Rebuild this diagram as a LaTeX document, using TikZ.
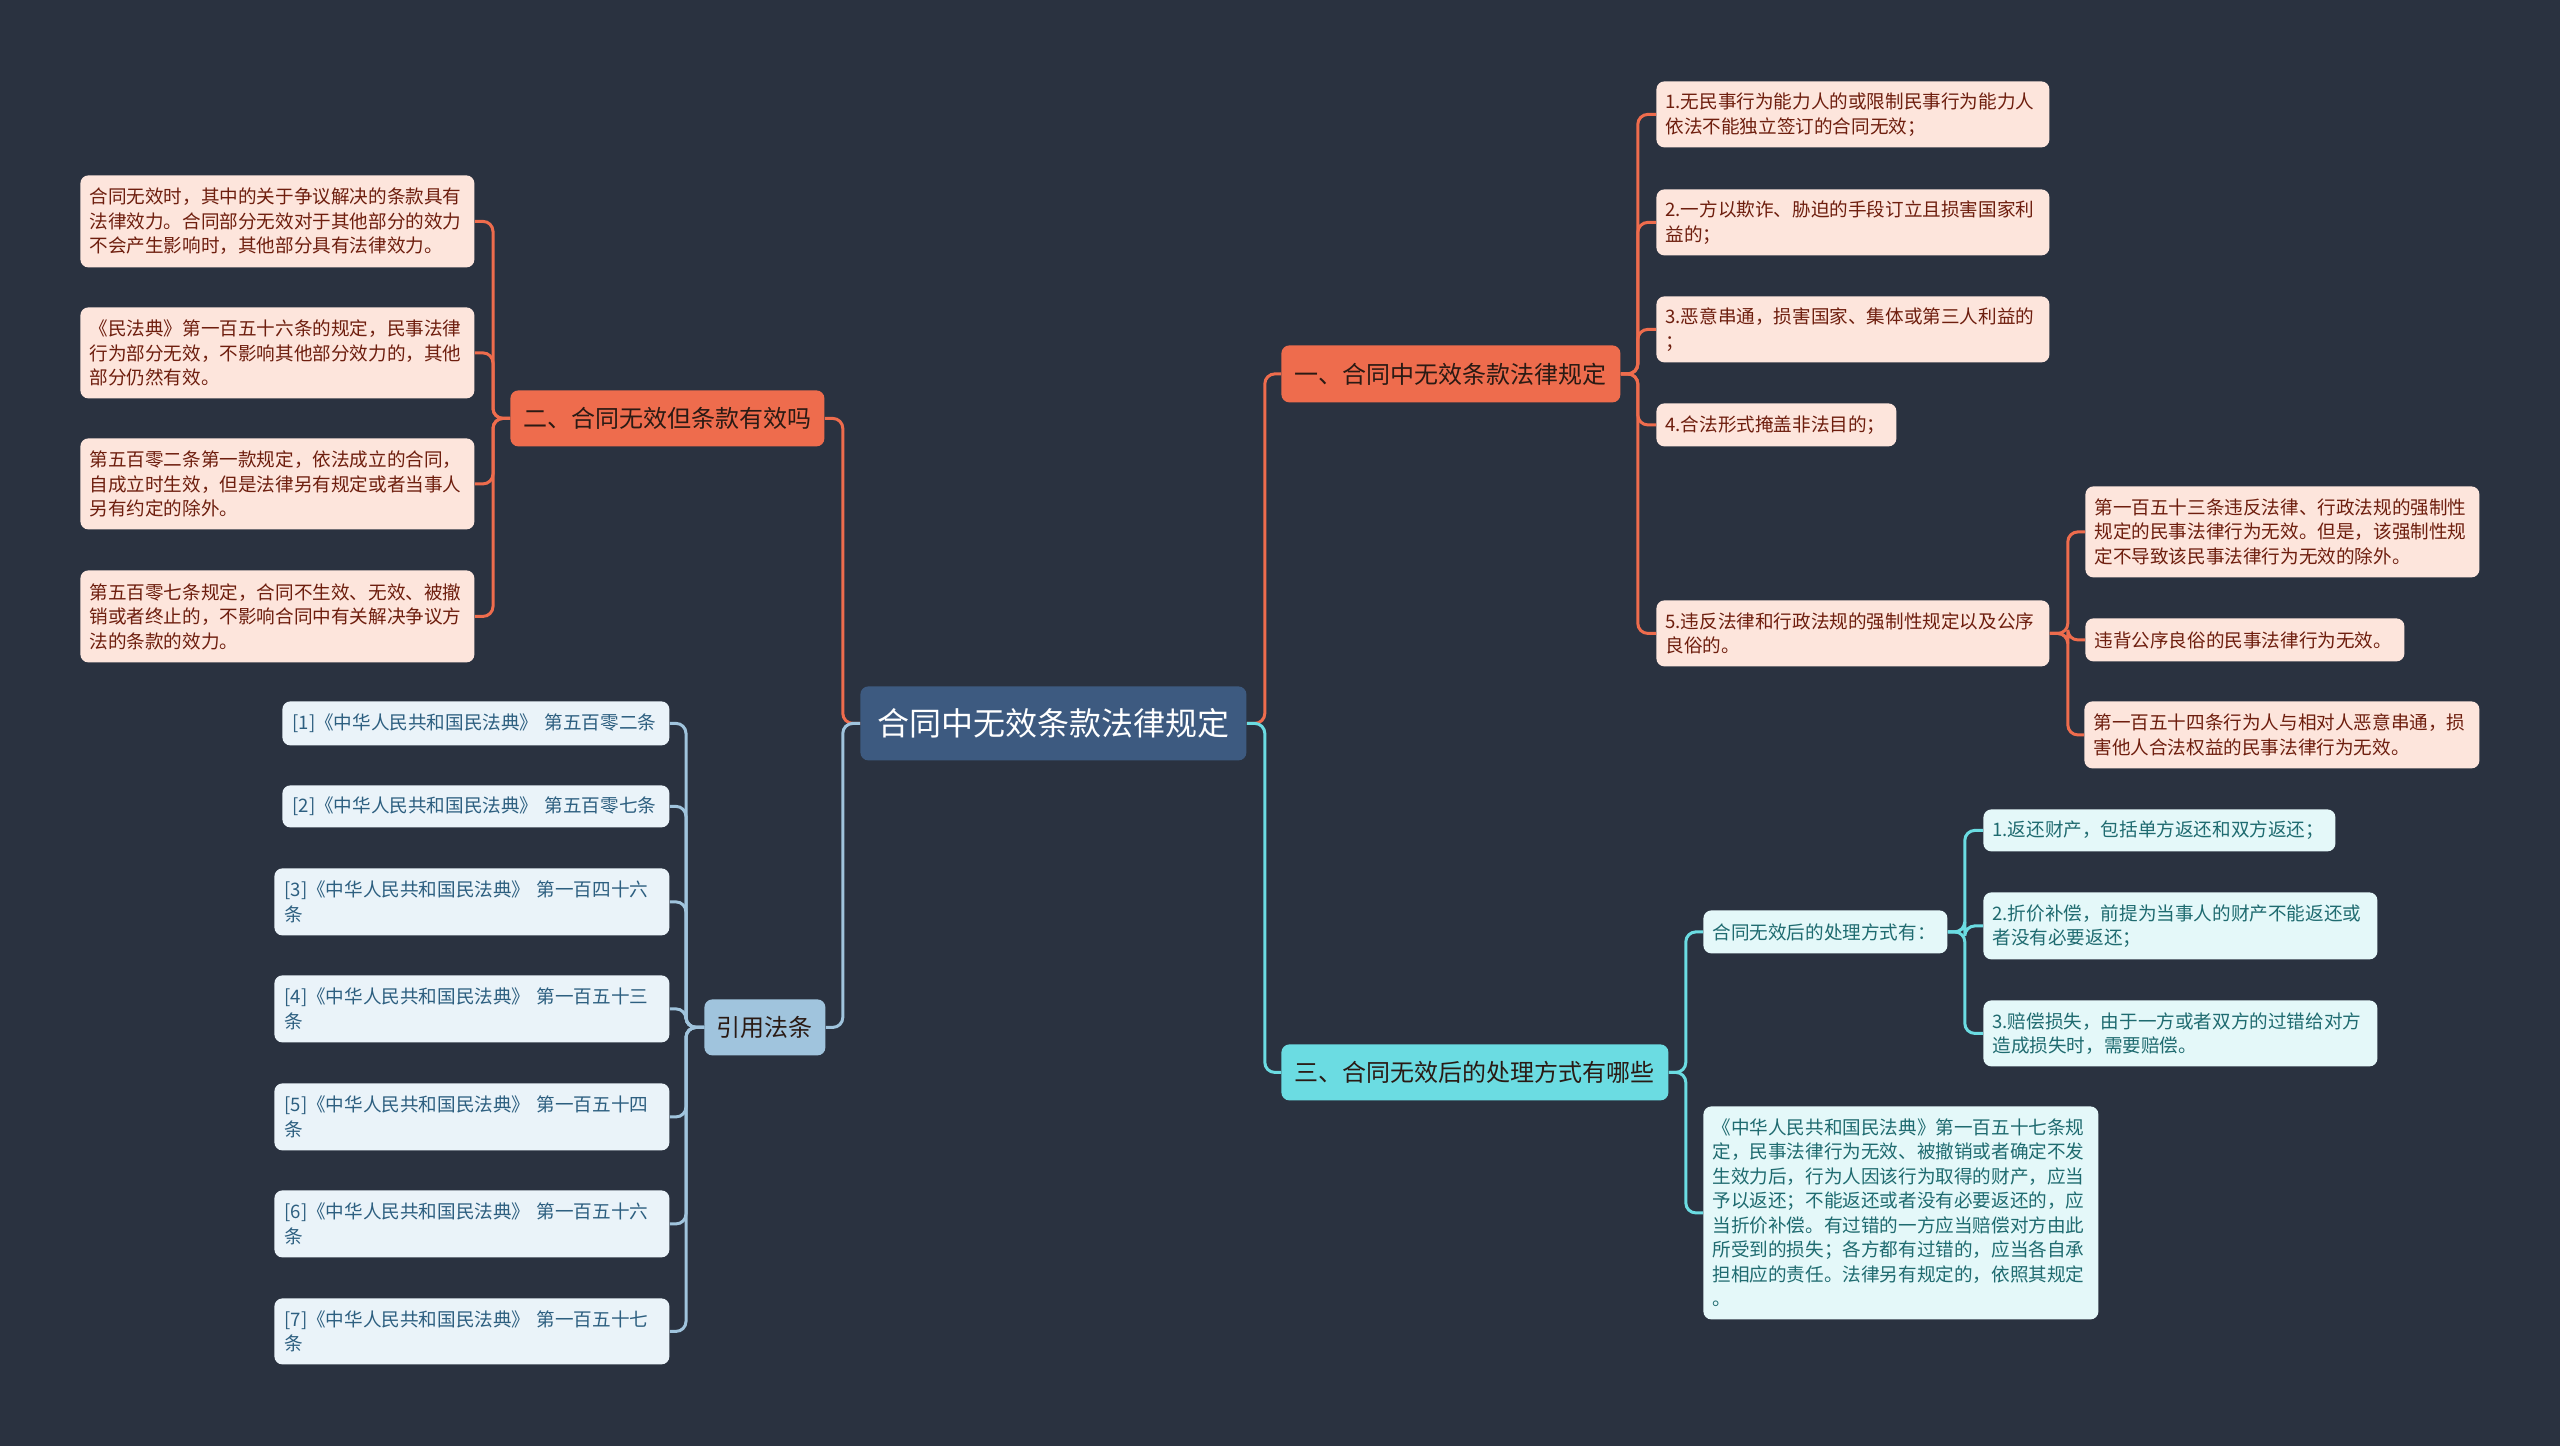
\documentclass[tikz,border=0pt]{standalone}
\usepackage{fontspec}
\newfontfamily\cjk{Noto Sans CJK SC}
\newcommand\leaffont{\cjk\fontsize{9.3}{12.25}\selectfont}
\newcommand\branchfont{\cjk\fontsize{12}{14}\selectfont}
\newcommand\rootfont{\cjk\fontsize{16}{19}\selectfont}
\definecolor{bgc}{HTML}{2A3240}
\definecolor{orgc}{HTML}{EE6C4D}
\definecolor{pinkc}{HTML}{FDE5DC}
\definecolor{pinkt}{HTML}{6E1E0E}
\definecolor{rootc}{HTML}{3D5A80}
\definecolor{cyanc}{HTML}{6BDCE2}
\definecolor{cyanl}{HTML}{E4F8F9}
\definecolor{cyant}{HTML}{1F6B70}
\definecolor{bluec}{HTML}{A0C4DD}
\definecolor{bluel}{HTML}{EAF3F9}
\definecolor{bluet}{HTML}{2D5F80}
\definecolor{darkt}{HTML}{2A1A14}
\tikzset{
  boxbase/.style={rectangle, rounded corners=4pt, anchor=north west, inner ysep=0pt},
  leafbox/.style={boxbase, inner xsep=4.5pt, align=left, font=\leaffont},
  pinkleaf/.style={leafbox, fill=pinkc, text=pinkt},
  cyanleaf/.style={leafbox, fill=cyanl, text=cyant},
  blueleaf/.style={leafbox, fill=bluel, text=bluet},
  branchbox/.style={boxbase, inner xsep=0pt, align=center, font=\branchfont},
  orgline/.style={draw=orgc, line width=1.5pt, rounded corners=5pt},
  cyanline/.style={draw=cyanc, line width=1.5pt, rounded corners=5pt},
  blueline/.style={draw=bluec, line width=1.5pt, rounded corners=5pt},
}
\begin{document}
\begin{tikzpicture}[x=0.5pt,y=-0.5pt]
\useasboundingbox (0,0) rectangle (2560,1446);
\fill[bgc] (0,0) rectangle (2560,1446);

% root
\node[boxbase, fill=rootc, text=white, font=\rootfont, minimum width=193pt, minimum height=37pt] (root) at (860,686) {合同中无效条款法律规定};

% branches
\node[branchbox, fill=orgc, text=darkt, minimum width=157pt, minimum height=28pt] (b2) at (510,390) {二、合同无效但条款有效吗};
\node[branchbox, fill=orgc, text=darkt, minimum width=169.5pt, minimum height=28.5pt] (b1) at (1281,345) {一、合同中无效条款法律规定};
\node[branchbox, fill=cyanc, text=darkt, minimum width=193.5pt, minimum height=28pt] (b3) at (1281,1044) {三、合同无效后的处理方式有哪些};
\node[branchbox, fill=bluec, text=darkt, minimum width=60.5pt, minimum height=28pt] (cite) at (704,999) {引用法条};

% left leaves
\node[pinkleaf, text width=188pt, minimum height=46pt] (L1) at (80,175) {合同无效时，其中的关于争议解决的条款具有\\法律效力。合同部分无效对于其他部分的效力\\不会产生影响时，其他部分具有法律效力。};
\node[pinkleaf, text width=188pt, minimum height=45.5pt] (L2) at (80,307) {《民法典》第一百五十六条的规定，民事法律\\行为部分无效，不影响其他部分效力的，其他\\部分仍然有效。};
\node[pinkleaf, text width=188pt, minimum height=45.5pt] (L3) at (80,438) {第五百零二条第一款规定，依法成立的合同，\\自成立时生效，但是法律另有规定或者当事人\\另有约定的除外。};
\node[pinkleaf, text width=188pt, minimum height=46pt] (L4) at (80,570) {第五百零七条规定，合同不生效、无效、被撤\\销或者终止的，不影响合同中有关解决争议方\\法的条款的效力。};

% citations
\node[blueleaf, inner xsep=5pt, text width=183.5pt, minimum height=22pt] (C1) at (282,701) {[1]《中华人民共和国民法典》~第五百零二条};
\node[blueleaf, inner xsep=5pt, text width=183.5pt, minimum height=21pt] (C2) at (282,785) {[2]《中华人民共和国民法典》~第五百零七条};
\node[blueleaf, inner xsep=5pt, text width=187.5pt, minimum height=33.5pt] (C3) at (274,868) {[3]《中华人民共和国民法典》 第一百四十六\\条};
\node[blueleaf, inner xsep=5pt, text width=187.5pt, minimum height=33.5pt] (C4) at (274,975) {[4]《中华人民共和国民法典》 第一百五十三\\条};
\node[blueleaf, inner xsep=5pt, text width=187.5pt, minimum height=33.5pt] (C5) at (274,1083) {[5]《中华人民共和国民法典》 第一百五十四\\条};
\node[blueleaf, inner xsep=5pt, text width=187.5pt, minimum height=33.5pt] (C6) at (274,1190) {[6]《中华人民共和国民法典》 第一百五十六\\条};
\node[blueleaf, inner xsep=5pt, text width=187.5pt, minimum height=33pt] (C7) at (274,1298) {[7]《中华人民共和国民法典》 第一百五十七\\条};

% right upper leaves
\node[pinkleaf, text width=187.5pt, minimum height=33pt] (R1) at (1656,81) {1.无民事行为能力人的或限制民事行为能力人\\依法不能独立签订的合同无效；};
\node[pinkleaf, text width=187.5pt, minimum height=33pt] (R2) at (1656,189) {2.一方以欺诈、胁迫的手段订立且损害国家利\\益的；};
\node[pinkleaf, text width=187.5pt, minimum height=33pt] (R3) at (1656,296) {3.恶意串通，损害国家、集体或第三人利益的\\；};
\node[pinkleaf, text width=111pt, minimum height=21.5pt] (R4) at (1656,403) {4.合法形式掩盖非法目的；};
\node[pinkleaf, text width=187.5pt, minimum height=33pt] (R5) at (1656,600) {5.违反法律和行政法规的强制性规定以及公序\\良俗的。};

\node[pinkleaf, text width=188pt, minimum height=45.5pt] (S1) at (2085,486) {第一百五十三条违反法律、行政法规的强制性\\规定的民事法律行为无效。但是，该强制性规\\定不导致该民事法律行为无效的除外。};
\node[pinkleaf, text width=150.5pt, minimum height=21.5pt] (S2) at (2085,618) {违背公序良俗的民事法律行为无效。};
\node[pinkleaf, text width=188.5pt, minimum height=33.5pt] (S3) at (2084,701) {第一百五十四条行为人与相对人恶意串通，损\\害他人合法权益的民事法律行为无效。};

% right lower leaves
\node[cyanleaf, text width=113pt, minimum height=21.5pt] (P) at (1703,910) {合同无效后的处理方式有：};
\node[cyanleaf, text width=188.5pt, minimum height=106.5pt] (Big) at (1703,1106) {《中华人民共和国民法典》第一百五十七条规\\定，民事法律行为无效、被撤销或者确定不发\\生效力后，行为人因该行为取得的财产，应当\\予以返还；不能返还或者没有必要返还的，应\\当折价补偿。有过错的一方应当赔偿对方由此\\所受到的损失；各方都有过错的，应当各自承\\担相应的责任。法律另有规定的，依照其规定\\。};
\node[cyanleaf, text width=167pt, minimum height=21pt] (T1) at (1983,809) {1.返还财产，包括单方返还和双方返还；};
\node[cyanleaf, text width=188pt, minimum height=33.5pt] (T2) at (1983,892) {2.折价补偿，前提为当事人的财产不能返还或\\者没有必要返还；};
\node[cyanleaf, text width=188pt, minimum height=33pt] (T3) at (1983,1000) {3.赔偿损失，由于一方或者双方的过错给对方\\造成损失时，需要赔偿。};

% connectors: root
\draw[orgline] (b2.east) -- ++(18,0) |- (root.west);
\draw[blueline] (cite.east) -- ++(17,0) |- (root.west);
\draw[orgline] (root.east) -- ++(18,0) |- (b1.west);
\draw[cyanline] (root.east) -- ++(18,0) |- (b3.west);

% b2 leaves
\foreach \n in {L1,L2,L3,L4} \draw[orgline] (b2.west) -- ++(-17,0) |- (\n.east);
% citations
\foreach \n in {C1,C2,C3,C4,C5,C6,C7} \draw[blueline] (cite.west) -- ++(-18,0) |- (\n.east);
% b1 leaves
\foreach \n in {R1,R2,R3,R4,R5} \draw[orgline] (b1.east) -- ++(17,0) |- (\n.west);
\foreach \n in {S1,S2,S3} \draw[orgline] (R5.east) -- ++(18,0) |- (\n.west);
% b3 leaves
\foreach \n in {P,Big} \draw[cyanline] (b3.east) -- ++(17,0) |- (\n.west);
\foreach \n in {T1,T2,T3} \draw[cyanline] (P.east) -- ++(17,0) |- (\n.west);
\end{tikzpicture}
\end{document}
